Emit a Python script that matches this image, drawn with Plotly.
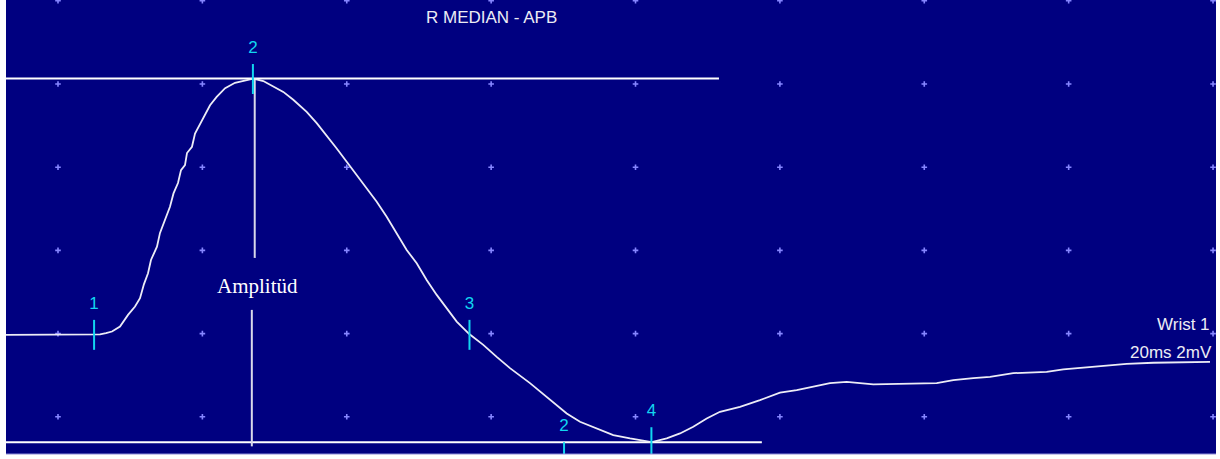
import plotly.graph_objects as go

# Median nerve motor response recorded over APB, stimulation at wrist (site 1)
time_ms = [-7.2, 4.99, 5.82, 6.65, 7.48, 8.59, 9.70, 10.67, 11.36, 11.91, 12.47, 12.88,
           13.71, 14.13, 14.82, 15.51, 16.00, 16.62, 17.04, 17.59, 17.87, 18.56, 18.98,
           19.91, 21.06, 21.98, 23.15, 24.52, 26.14, 27.05, 28.44, 29.82, 31.21, 32.59,
           34.45, 35.84, 37.22, 38.61, 39.99, 41.38, 42.76, 44.15, 45.53, 46.92, 48.30,
           49.69, 51.07, 52.46, 53.84, 55.23, 56.97, 58.91, 60.77, 62.61, 65.38, 67.70,
           70.47, 72.31, 74.62, 76.92, 79.24, 81.08, 82.24, 84.32, 86.16, 88.00, 89.86,
           91.70, 94.47, 97.24, 100.01, 102.33, 104.63, 106.94, 109.25, 112.94, 121.72,
           124.02, 126.79, 129.10, 132.33, 136.95, 139.26, 144.80, 148.04, 151.73, 156.81,
           159.58]
amp_mv = [-0.03, -0.03, -0.02, 0.01, 0.05, 0.17, 0.45, 0.65, 0.85, 1.19, 1.45, 1.77,
          2.09, 2.42, 2.73, 3.05, 3.37, 3.62, 3.93, 4.05, 4.34, 4.49, 4.81,
          5.13, 5.49, 5.69, 5.90, 6.03, 6.10, 6.13, 6.07, 5.95, 5.81, 5.62,
          5.33, 5.06, 4.77, 4.45, 4.13, 3.81, 3.49, 3.17, 2.81, 2.41, 2.01,
          1.69, 1.29, 0.93, 0.61, 0.29, -0.01, -0.27, -0.56, -0.83, -1.19, -1.52,
          -1.92, -2.12, -2.28, -2.44, -2.52, -2.58, -2.61, -2.52, -2.40, -2.24, -2.04,
          -1.88, -1.76, -1.60, -1.42, -1.36, -1.28, -1.19, -1.16, -1.22, -1.19,
          -1.12, -1.07, -1.04, -0.95, -0.92, -0.86, -0.78, -0.73, -0.70, -0.69,
          -0.68]

# Cursor markers: label, time and the level the tick is centred on
marker_labels = ["1", "2", "3", "2", "4"]
marker_ms = [5.0, 27.0, 57.0, 70.1, 82.2]
marker_mv = [-0.03, 6.12, -0.03, -2.97, -2.61]

# Display grid: 20 ms/div horizontally, 2 mV/div vertically
grid_ms = [0, 20, 40, 60, 80, 100, 120, 140, 160]
grid_mv = [-2, 0, 2, 4, 6, 8]

title_text = "R MEDIAN - APB"
site_text = "Wrist 1"
scale_text = "20ms 2mV"
amp_text = "Amplitüd"

NAVY = "#000080"
TRACE = "#ececf6"
CYAN = "#12d6f0"
DOT = "#8686ff"
TEXT = "#ececf4"

X_RANGE = [-7.203, 160.41]
Y_RANGE = [-2.894, 8.019]
TICK_HALF = 0.36  # half height of a cursor tick, mV

peak_mv = max(amp_mv)
trough_mv = min(amp_mv)
peak_ms = time_ms[amp_mv.index(peak_mv)]

fig = go.Figure()

# grid dots
gx, gy = [], []
for yv in grid_mv:
    for xv in grid_ms:
        gx.append(xv)
        gy.append(yv)
fig.add_trace(go.Scatter(
    x=gx, y=gy, mode="markers", hoverinfo="skip",
    marker=dict(symbol="cross-thin", size=4, color=DOT, line=dict(color=DOT, width=1.6)),
))

# peak and trough reference lines
fig.add_trace(go.Scatter(
    x=[X_RANGE[0], 91.56, None, X_RANGE[0], 97.5],
    y=[peak_mv, peak_mv, None, trough_mv, trough_mv],
    mode="lines", hoverinfo="skip",
    line=dict(color="#ffffff", width=2),
))

# amplitude line, split around its label
fig.add_trace(go.Scatter(
    x=[peak_ms + 0.2, peak_ms + 0.2, None, peak_ms - 0.2, peak_ms - 0.2],
    y=[peak_mv, 1.82, None, 0.57, -2.71],
    mode="lines", hoverinfo="skip",
    line=dict(color="#d8d8ea", width=2),
))

# response waveform
fig.add_trace(go.Scatter(
    x=time_ms, y=amp_mv, mode="lines", hoverinfo="skip",
    line=dict(color=TRACE, width=1.8),
))

# cursor ticks
tx, ty = [], []
for xm, ym in zip(marker_ms, marker_mv):
    tx += [xm, xm, None]
    ty += [ym - TICK_HALF, ym + TICK_HALF, None]
fig.add_trace(go.Scatter(
    x=tx, y=ty, mode="lines", hoverinfo="skip",
    line=dict(color=CYAN, width=2),
))

# cursor labels
fig.add_trace(go.Scatter(
    x=marker_ms, y=[m + 2 * TICK_HALF for m in marker_mv],
    mode="text", text=marker_labels, textposition="middle center",
    textfont=dict(family="Liberation Sans", size=17, color=CYAN),
    hoverinfo="skip", cliponaxis=False,
))

annos = [
    dict(x=60, y=7.61, text=title_text, xanchor="center", yanchor="middle",
         font=dict(family="Liberation Sans", size=17, color=TEXT)),
    dict(x=159.9, y=0.21, text=site_text, xanchor="right", yanchor="middle",
         font=dict(family="Liberation Sans", size=17, color=TEXT)),
    dict(x=160.2, y=-0.45, text=scale_text, xanchor="right", yanchor="middle",
         font=dict(family="Liberation Sans", size=17, color=TEXT)),
    dict(x=27.7, y=1.14, text=amp_text, xanchor="center", yanchor="middle",
         font=dict(family="Liberation Serif", size=21, color="#ffffff")),
]
for a in annos:
    a.update(xref="x", yref="y", showarrow=False)

fig.update_layout(
    width=1220, height=459,
    margin=dict(l=6, r=4, t=0, b=5),
    paper_bgcolor="#ffffff", plot_bgcolor=NAVY,
    showlegend=False,
    annotations=annos,
    xaxis=dict(range=X_RANGE, showgrid=False, zeroline=False, showticklabels=False,
               ticks="", fixedrange=True),
    yaxis=dict(range=Y_RANGE, showgrid=False, zeroline=False, showticklabels=False,
               ticks="", fixedrange=True),
    shapes=[dict(type="line", xref="paper", yref="paper", x0=0, x1=1, y0=0, y1=0,
                 line=dict(color="#8c8cd8", width=1))],
)

fig.write_html("out.html")
